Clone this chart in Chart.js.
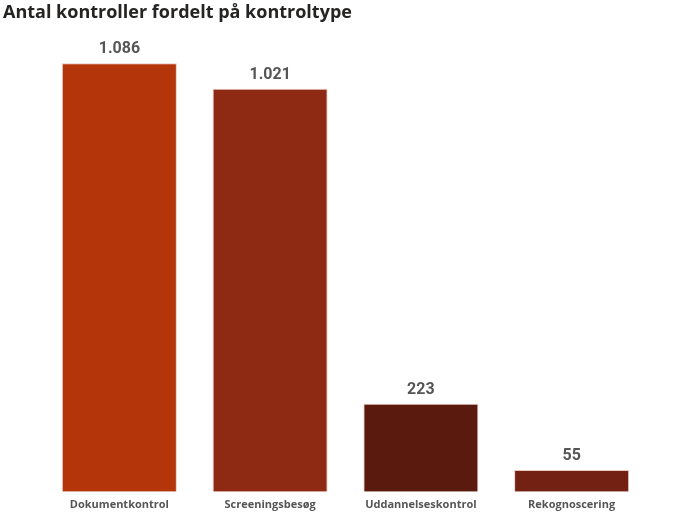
<!DOCTYPE html>
<html>
<head>
<meta charset="utf-8">
<script src="https://cdn.jsdelivr.net/npm/chart.js@4/dist/chart.umd.min.js"></script>
<style>
  html, body { margin: 0; padding: 0; background: #fff; }
  #wrap { width: 696px; height: 522px; position: relative; }
</style>
</head>
<body>
<div id="wrap"><canvas id="c" width="696" height="522"></canvas></div>
<script>
const title = "Antal kontroller fordelt på kontroltype";
const categories = ["Dokumentkontrol", "Screeningsbesøg", "Uddannelseskontrol", "Rekognoscering"];
const values = [1086, 1021, 223, 55];
const barColors = ["#B5350A", "#8E2A14", "#5A1A0E", "#722112"];
const valueLabels = ["1.086", "1.021", "223", "55"];

const valuePlugin = {
  id: 'valueLabels',
  afterDatasetsDraw(chart) {
    const ctx = chart.ctx;
    const meta = chart.getDatasetMeta(0);
    ctx.save();
    ctx.font = 'bold 16px Roboto, "Liberation Sans", sans-serif';
    ctx.fillStyle = '#555555';
    ctx.textAlign = 'center';
    ctx.textBaseline = 'middle';
    meta.data.forEach((bar, i) => {
      ctx.fillText(valueLabels[i], bar.x, bar.y - 14);
    });
    ctx.restore();
  }
};

new Chart(document.getElementById('c'), {
  type: 'bar',
  data: {
    labels: categories,
    datasets: [{
      data: values,
      backgroundColor: barColors,
      borderColor: '#E8C8C0',
      borderWidth: 1,
      categoryPercentage: 1,
      barPercentage: 0.763
    }]
  },
  options: {
    responsive: false,
    animation: false,
    devicePixelRatio: 1,
    layout: { padding: { left: 3, right: 49, top: 0, bottom: 5 } },
    plugins: {
      legend: { display: false },
      tooltip: { enabled: false },
      title: {
        display: true,
        text: title,
        align: 'start',
        color: '#252423',
        font: { family: '"Open Sans", sans-serif', size: 18, weight: 'bold' },
        padding: { top: 2, bottom: 34 }
      }
    },
    scales: {
      x: {
        grid: { display: false, drawTicks: false },
        border: { display: false },
        ticks: {
          color: '#555555',
          padding: 6,
          maxRotation: 0,
          font: { family: '"Open Sans", sans-serif', size: 11, weight: 'bold' }
        }
      },
      y: {
        display: true,
        min: 0,
        max: 1100,
        grid: { display: false },
        border: { display: false },
        ticks: { display: false },
        afterFit(axis) { axis.width = 41; }
      }
    }
  },
  plugins: [valuePlugin]
});
</script>
</body>
</html>
